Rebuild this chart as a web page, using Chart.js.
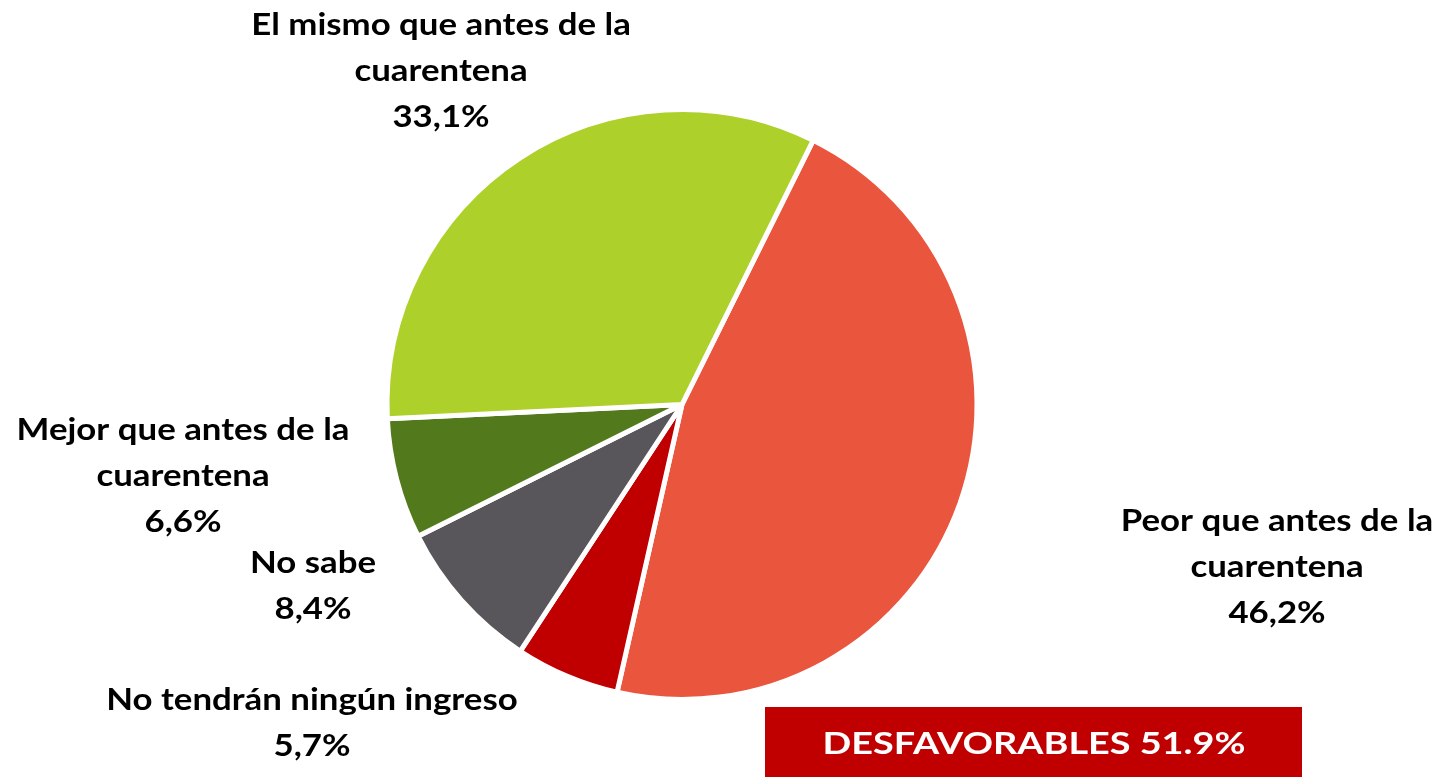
<!DOCTYPE html>
<html><head><meta charset="utf-8">
<script src="https://cdn.jsdelivr.net/npm/chart.js@4/dist/chart.umd.min.js"></script>
<style>html,body{margin:0;padding:0;background:#fff;}canvas{display:block;}</style>
</head><body>
<canvas id="c" width="1440" height="777"></canvas>
<script>
const categories = [
  "Peor que antes de la cuarentena",
  "No tendrán ningún ingreso",
  "No sabe",
  "Mejor que antes de la cuarentena",
  "El mismo que antes de la cuarentena"
];
const values = [46.2, 5.7, 8.4, 6.6, 33.1];
const valueLabels = ["46,2%", "5,7%", "8,4%", "6,6%", "33,1%"];
const labelLines = [
  ["Peor que antes de la", "cuarentena"],
  ["No tendrán ningún ingreso"],
  ["No sabe"],
  ["Mejor que antes de la", "cuarentena"],
  ["El mismo que antes de la", "cuarentena"]
];
const colors = ["#EA553E", "#C00000", "#58565B", "#527A1C", "#ADD02A"];
const boxText = "DESFAVORABLES 51.9%";

const labelPos = [
  {x: 1277, y: 521},
  {x: 312, y: 700},
  {x: 313, y: 563},
  {x: 183, y: 430},
  {x: 441, y: 25}
];
const FONT = 'bold 30px Lato, "Open Sans", sans-serif';
const LH = 46;
const SX = 1.16;

function drawScaled(ctx, t, x, y, sx) {
  ctx.save();
  ctx.translate(x, y);
  ctx.scale(sx, 1);
  ctx.fillText(t, 0, 0);
  ctx.restore();
}

const labelPlugin = {
  id: 'labelsPlugin',
  afterDraw(chart) {
    const ctx = chart.ctx;
    ctx.save();
    ctx.font = FONT;
    ctx.fillStyle = '#000';
    ctx.textAlign = 'center';
    ctx.textBaseline = 'middle';
    labelLines.forEach((lines, i) => {
      const p = labelPos[i];
      const all = lines.concat([valueLabels[i]]);
      all.forEach((t, j) => drawScaled(ctx, t, p.x, p.y + j * LH, SX));
    });
    // box
    ctx.fillStyle = '#C00000';
    ctx.fillRect(765, 707, 537, 70);
    ctx.fillStyle = '#fff';
    ctx.font = 'bold 30px Lato, "Open Sans", sans-serif';
    drawScaled(ctx, boxText, 1034, 744, 1.26);
    ctx.restore();
  }
};

new Chart(document.getElementById('c'), {
  type: 'pie',
  data: {
    labels: categories,
    datasets: [{
      data: values,
      backgroundColor: colors,
      borderColor: '#fff',
      borderWidth: 5
    }]
  },
  options: {
    responsive: false,
    animation: false,
    rotation: 26.4,
    layout: {padding: {top: 107, bottom: 75, left: 384, right: 460}},
    plugins: {legend: {display: false}, tooltip: {enabled: false}}
  },
  plugins: [labelPlugin]
});
</script>
</body></html>
